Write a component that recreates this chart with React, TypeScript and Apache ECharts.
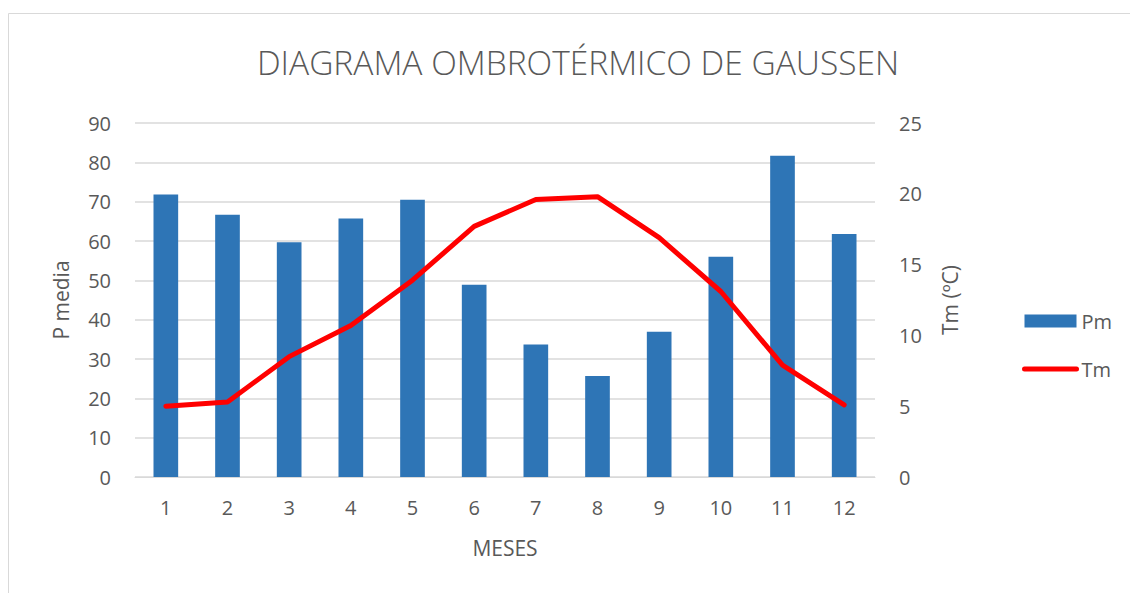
import React, { useEffect, useRef } from "react";
import * as echarts from "echarts";

const months = ["1", "2", "3", "4", "5", "6", "7", "8", "9", "10", "11", "12"];
const pm = [71.8, 66.7, 59.7, 65.7, 70.5, 48.9, 33.7, 25.7, 36.9, 56.0, 81.7, 61.8];
const tm = [5.0, 5.3, 8.5, 10.7, 13.9, 17.7, 19.6, 19.8, 16.9, 13.1, 7.9, 5.1];
const titleText = "DIAGRAMA OMBROTÉRMICO DE GAUSSEN";
const leftName = "P media";
const rightName = "Tm (ºC)";
const xName = "MESES";

const FONT = "'Open Sans', sans-serif";
const TXT = "#595959";

export default function App() {
  const ref = useRef<HTMLDivElement>(null);
  useEffect(() => {
    if (!ref.current) return;
    const chart = echarts.init(ref.current, null, { renderer: "svg" });
    chart.setOption({
      animation: false,
      backgroundColor: "#ffffff",
      textStyle: { fontFamily: FONT, color: TXT },
      graphic: [
        {
          type: "rect",
          shape: { x: 8.5, y: 13.5, width: 1200, height: 600 },
          style: { fill: "none", stroke: "#d9d9d9", lineWidth: 1 },
          silent: true,
          z: -10,
        },
      ],
      title: {
        text: titleText,
        left: 573,
        top: 40,
        textAlign: "center",
        textStyle: { fontFamily: FONT, fontSize: 33.5, fontWeight: 300, color: TXT },
      },
      legend: {
        orient: "vertical",
        left: 1017,
        top: 306,
        itemWidth: 52,
        itemHeight: 13,
        itemGap: 28,
        textStyle: { fontFamily: FONT, fontSize: 20, color: TXT },
        data: [
          { name: "Pm", icon: "rect" },
          {
            name: "Tm",
            itemStyle: { opacity: 0 },
            lineStyle: { color: "#ff0000", width: 5, cap: "round" },
          },
        ],
      },
      grid: { left: 135, right: 255, top: 123, bottom: 116, containLabel: false },
      xAxis: {
        type: "category",
        data: months,
        name: xName,
        nameLocation: "middle",
        nameGap: 60,
        nameTextStyle: { fontFamily: FONT, fontSize: 21, color: TXT },
        axisLine: { show: true, lineStyle: { color: "#d9d9d9", width: 1 } },
        axisTick: { show: false },
        axisLabel: { fontFamily: FONT, fontSize: 20, color: TXT, margin: 20 },
      },
      yAxis: [
        {
          type: "value",
          min: 0,
          max: 90,
          interval: 10,
          name: leftName,
          nameLocation: "middle",
          nameRotate: 90,
          nameGap: 64,
          nameTextStyle: { fontFamily: FONT, fontSize: 21, color: TXT },
          axisLine: { show: false },
          axisTick: { show: false },
          axisLabel: { fontFamily: FONT, fontSize: 20, color: TXT, margin: 24 },
          splitLine: { show: true, lineStyle: { color: "#d9d9d9", width: 1.5 } },
        },
        {
          type: "value",
          min: 0,
          max: 25,
          interval: 5,
          name: rightName,
          nameLocation: "middle",
          nameRotate: 90,
          nameGap: 64,
          nameTextStyle: { fontFamily: FONT, fontSize: 21, color: TXT },
          axisLine: { show: false },
          axisTick: { show: false },
          axisLabel: { fontFamily: FONT, fontSize: 20, color: TXT, margin: 24 },
          splitLine: { show: false },
        },
      ],
      series: [
        {
          name: "Pm",
          type: "bar",
          data: pm,
          yAxisIndex: 0,
          barWidth: "40%",
          itemStyle: { color: "#2e75b6" },
        },
        {
          name: "Tm",
          type: "line",
          data: tm,
          yAxisIndex: 1,
          symbol: "none",
          lineStyle: { color: "#ff0000", width: 5, cap: "round", join: "round" },
          itemStyle: { color: "#ff0000" },
        },
      ],
    });
    return () => chart.dispose();
  }, []);
  return (
    <div
      ref={ref}
      style={{ position: "fixed", left: 0, top: 0, width: 1130, height: 593 }}
    />
  );
}
